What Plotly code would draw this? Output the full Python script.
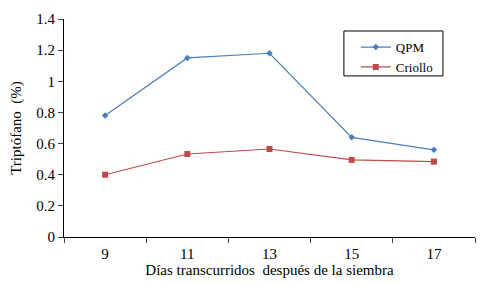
import plotly.graph_objects as go

dias = ["9", "11", "13", "15", "17"]
qpm = [0.78, 1.15, 1.18, 0.64, 0.56]
criollo = [0.40, 0.533, 0.565, 0.495, 0.484]

font_family = "Liberation Serif"

fig = go.Figure()
fig.add_trace(go.Scatter(
    x=dias, y=qpm, name="QPM", mode="lines+markers",
    line=dict(color="#4a7ebb", width=1.2),
    marker=dict(symbol="diamond", size=5, color="#4a7ebb"),
))
fig.add_trace(go.Scatter(
    x=dias, y=criollo, name="Criollo", mode="lines+markers",
    line=dict(color="#be4b48", width=1.2),
    marker=dict(symbol="square", size=6, color="#be4b48"),
))

# legend frame
fig.add_shape(type="rect", xref="paper", yref="paper",
              x0=0.681, x1=0.922, y0=0.739, y1=0.945,
              line=dict(color="black", width=1), fillcolor="white", layer="below")

fig.update_layout(
    width=500, height=284,
    margin=dict(l=56, r=33, t=11, b=55, autoexpand=False),
    paper_bgcolor="white", plot_bgcolor="white",
    font=dict(family=font_family, size=15, color="black"),
    showlegend=True,
    legend=dict(
        x=0.71, y=0.94, xanchor="left", yanchor="top",
        borderwidth=0, bgcolor="rgba(0,0,0,0)",
        font=dict(size=13, family=font_family, color="black"),
        itemwidth=30,
        tracegroupgap=2,
    ),
    xaxis=dict(
        type="category", range=[-0.5, 4.5], automargin=False,
        tickson="boundaries", ticks="outside", ticklen=5,
        ticklabelstandoff=3,
        showline=True, linecolor="black", linewidth=1,
        showgrid=False, zeroline=False,
        title=dict(text="Días transcurridos  después de la siembra", font=dict(size=15), standoff=1),
    ),
    yaxis=dict(
        range=[0, 1.4], dtick=0.2, tickformat="~g", automargin=False,
        ticks="outside", ticklen=5,
        showline=True, linecolor="black", linewidth=1,
        showgrid=False, zeroline=False,
        title=dict(text="Triptófano  (%)", font=dict(size=15), standoff=18),
    ),
)

fig.write_html("out.html")
